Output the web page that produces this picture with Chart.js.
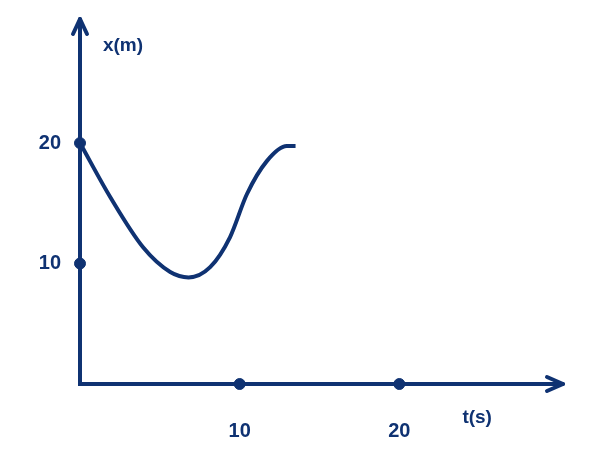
<!DOCTYPE html>
<html>
<head>
<meta charset="utf-8">
<script src="https://cdn.jsdelivr.net/npm/chart.js@4/dist/chart.umd.min.js"></script>
<style>
  html, body { margin: 0; padding: 0; background: #ffffff; }
  #wrap { width: 596px; height: 457px; }
</style>
</head>
<body>
<div id="wrap"><canvas id="chart" width="596" height="457"></canvas></div>
<script>
// curve: time (s) and position (m)
const curveT = [0, 1.9, 3.95, 5.65, 6.8, 8.15, 9.4, 10.45, 11.7, 12.95, 13.5];
const curveX = [20, 15.5, 11.35, 9.3, 8.85, 9.7, 12.2, 15.75, 18.5, 19.75, 19.75];

// marked dots on the axes
const dotT = [0, 0, 10, 20];
const dotX = [20, 10, 0, 0];

// tick labels
const tTicks = [10, 20];
const xTicks = [10, 20];

const navy = "#0f3272";

// Plugin that draws the arrowheads and the axis names
const axisArrows = {
  id: "axisArrows",
  afterDraw(chart) {
    const ctx = chart.ctx;
    const sx = chart.scales.x;
    const sy = chart.scales.y;
    const x0 = sx.getPixelForValue(0);
    const y0 = sy.getPixelForValue(0);
    const topY = 19;
    const rightX = chart.chartArea.right + 4;

    ctx.save();
    ctx.strokeStyle = navy;
    ctx.lineWidth = 4;
    ctx.lineCap = "round";
    ctx.lineJoin = "round";

    // extend axes to arrow tips
    ctx.beginPath();
    ctx.moveTo(x0, chart.chartArea.top);
    ctx.lineTo(x0, topY);
    ctx.moveTo(chart.chartArea.right, y0);
    ctx.lineTo(rightX, y0);
    ctx.stroke();

    // up arrow
    ctx.beginPath();
    ctx.moveTo(x0 - 7, topY + 15);
    ctx.lineTo(x0, topY);
    ctx.lineTo(x0 + 7, topY + 15);
    ctx.stroke();

    // right arrow
    ctx.beginPath();
    ctx.moveTo(rightX - 16, y0 - 7);
    ctx.lineTo(rightX, y0);
    ctx.lineTo(rightX - 16, y0 + 7);
    ctx.stroke();

    // axis names
    ctx.fillStyle = navy;
    ctx.font = "bold 19px Arial, 'Liberation Sans', sans-serif";
    ctx.textAlign = "center";
    ctx.textBaseline = "middle";
    ctx.fillText("x(m)", x0 + 43, 46);
    ctx.fillText("t(s)", sx.getPixelForValue(25) - 2, 418);
    ctx.restore();
  }
};

const chart = new Chart(document.getElementById("chart"), {
  type: "scatter",
  data: {
    datasets: [
      {
        type: "line",
        data: curveT.map((t, i) => ({ x: t, y: curveX[i] })),
        borderColor: navy,
        borderWidth: 4,
        pointRadius: 0,
        cubicInterpolationMode: "monotone",
        fill: false,
        clip: false
      },
      {
        data: dotT.map((t, i) => ({ x: t, y: dotX[i] })),
        backgroundColor: navy,
        borderColor: navy,
        pointRadius: 5.5,
        clip: false
      }
    ]
  },
  options: {
    responsive: false,
    animation: false,
    layout: { padding: { top: 12, right: 37, left: 0, bottom: 0 } },
    plugins: {
      legend: { display: false },
      tooltip: { enabled: false }
    },
    scales: {
      x: {
        type: "linear",
        min: 0,
        max: 30,
        afterFit(scale) { scale.height = 73; },
        afterBuildTicks(scale) { scale.ticks = [0].concat(tTicks).map(v => ({ value: v })); },
        grid: { display: false, drawTicks: false },
        border: { display: true, color: navy, width: 4 },
        ticks: {
          padding: 35,
          color: navy,
          font: { family: "Arial, 'Liberation Sans', sans-serif", size: 20, weight: "bold" },
          callback: v => (tTicks.includes(v) ? String(v) : "")
        }
      },
      y: {
        type: "linear",
        min: 0,
        max: 29.3,
        afterFit(scale) { scale.width = 80; },
        afterBuildTicks(scale) { scale.ticks = [0].concat(xTicks).map(v => ({ value: v })); },
        grid: { display: false, drawTicks: false },
        border: { display: true, color: navy, width: 4 },
        ticks: {
          padding: 19,
          color: navy,
          font: { family: "Arial, 'Liberation Sans', sans-serif", size: 20, weight: "bold" },
          callback: v => (xTicks.includes(v) ? String(v) : "")
        }
      }
    }
  },
  plugins: [axisArrows]
});
</script>
</body>
</html>
